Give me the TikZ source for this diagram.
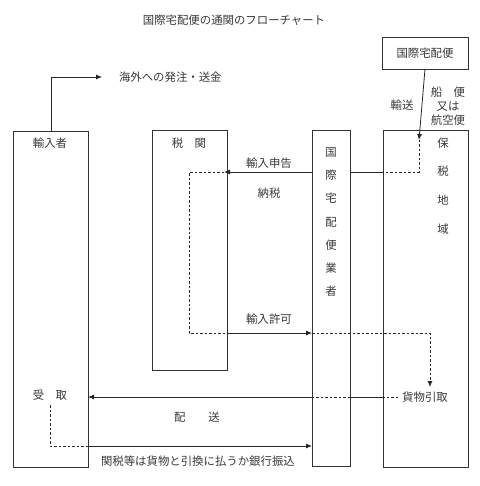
\documentclass[tikz,border=0pt]{standalone}
\usepackage{fontspec}
\newfontfamily\jp{Noto Sans CJK JP}
\usetikzlibrary{arrows.meta,calc}
\begin{document}
\begin{tikzpicture}[x=1bp,y=-1bp,
  every node/.style={inner sep=0pt,outer sep=0pt},
  lbl/.style={font=\jp\fontsize{11.4bp}{13bp}\selectfont,text=black!78},
  vlbl/.style={font=\jp\fontsize{11.4bp}{#1}\selectfont,text=black!78,align=center},
  boxs/.style={draw=black!80,line width=0.8bp,fill=white,anchor=north west},
  sline/.style={draw=black!85,line width=0.8bp},
  dline/.style={draw=black!85,line width=0.8bp,dash pattern=on 2.5bp off 2bp},
  arr/.style={-{Latex[length=6bp,width=5bp]}}
]
\useasboundingbox (0,0) rectangle (480,486);

% boxes
\node[boxs,minimum width=75bp,minimum height=336bp] (imp) at (13,131) {};
\node[boxs,minimum width=75bp,minimum height=240bp] (cus) at (152,130) {};
\node[boxs,minimum width=38bp,minimum height=336bp] (cou) at (312,130) {};
\node[boxs,minimum width=85bp,minimum height=337bp] (bon) at (383,130) {};
\node[boxs,minimum width=86bp,minimum height=32bp] (top) at (382,37) {};

% texts
\node[lbl] (title) at (234,20) {国際宅配便の通関のフローチャート};
\node[lbl] (toptxt) at (top.center) {国際宅配便};
\node[lbl,anchor=west] (ovs) at (119,77) {海外への発注・送金};
\node[lbl] (yuso) at (402,105) {輸送};
\node[vlbl=14bp] (ship) at (448,106) {船　便\\又は\\航空便};
\node[lbl] (impt) at (50,143) {輸入者};
\node[lbl] (cust) at (189,143) {税　関};
\node[vlbl=23.3bp] (cout) at (331,222) {国\\際\\宅\\配\\便\\業\\者};
\node[vlbl=28.7bp] (bont) at (443,186) {保\\税\\地\\域};
\node[lbl] (shinkoku) at (269,163) {輸入申告};
\node[lbl] (nozei) at (269,193) {納税};
\node[lbl] (kyoka) at (269,319) {輸入許可};
\node[lbl] (uketori) at (50,395) {受　取};
\node[lbl] (haiso) at (197,417) {配　　送};
\node[lbl] (hikitori) at (425,397) {貨物引取};
\node[lbl,anchor=west] (kanzei) at (101,461) {関税等は貨物と引換に払うか銀行振込};

% corner coordinates
\coordinate (a1) at (419,140);
\coordinate (a2) at (419,172);
\coordinate (b1) at (224,172);
\coordinate (b2) at (189,172);
\coordinate (b3) at (189,333);
\coordinate (c1) at (430,333);
\coordinate (c2) at (430,387);
\coordinate (d1) at (50,405);
\coordinate (d2) at (50,446);

% importer -> overseas
\draw[sline,arr] ($(imp.north west)+(38,0)$) |- ([xshift=-17bp]ovs.west);

% transport into bonded area
\draw[sline,arr] (top.south) -- (a1);
\draw[dline] (a1) -- (a2) -- (a2 -| bon.west);
\draw[sline] (a2 -| bon.west) -- (a2 -| cou.east);
\draw[sline,arr] (a2 -| cou.west) -- (b1);
\draw[dline] (b1) -- (b2) -- (b3) -- (b3 -| cus.east);
\draw[sline,arr] (b3 -| cus.east) -- (b3 -| cou.west);
\draw[dline,arr] (b3 -| cou.west) -- (c1) -- (c2);

% delivery
\draw[dline] ([xshift=-4bp]hikitori.west) -- (hikitori.west -| bon.west);
\draw[sline] (hikitori.west -| bon.west) -- (hikitori.west -| cou.east);
\draw[dline] (hikitori.west -| cou.east) -- (hikitori.west -| cou.west);
\draw[sline,arr] (hikitori.west -| cou.west) -- (hikitori.west -| imp.east);

% payment
\draw[dline] (d1) -- (d2) -- (d2 -| imp.east);
\draw[sline,arr] (d2 -| imp.east) -- (d2 -| cou.west);
\end{tikzpicture}
\end{document}
